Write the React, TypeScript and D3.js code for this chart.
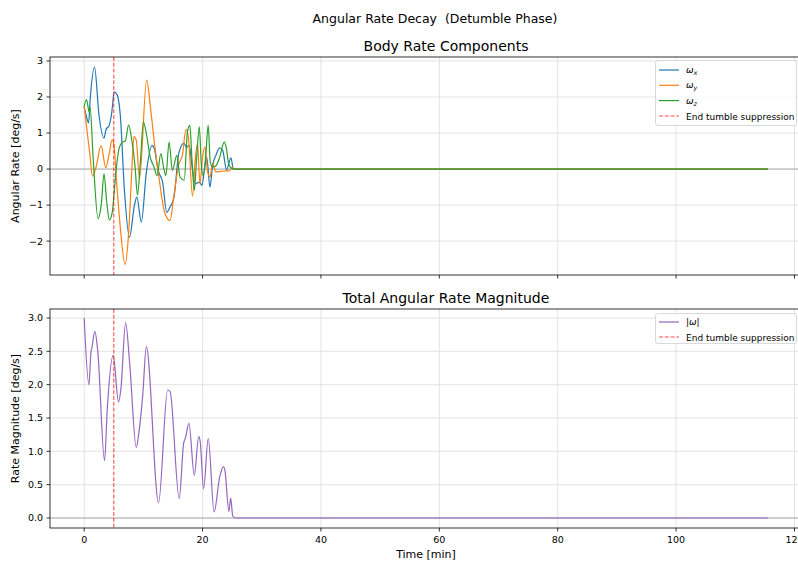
import * as d3 from "d3";

// time samples [min] and body rates [deg/s]
const tX = [0, 0.4, 0.75, 1.0, 1.75, 2.5, 3.35, 3.7, 4.2, 4.6, 5.1, 5.6, 6.1, 6.8, 7.65, 8.5, 8.9, 9.65, 10.5, 11.45, 11.85, 12.5, 13.25, 13.95, 14.5, 15.15, 16.0, 16.85, 17.3, 17.75, 18.2, 18.8, 19.45, 19.9, 20.3, 20.7, 21.25, 21.7, 22.25, 22.9, 23.4, 24.05, 24.8, 25.2, 25.6, 115.5];
const wX = [1.72, 1.45, 1.28, 1.9, 2.83, 1.5, 0.86, 1.1, 1.2, 1.5, 2.14, 2.05, 1.5, -0.59, -1.89, -1.0, -0.78, -1.47, -0.1, 0.66, 0.56, -0.04, -0.36, -1.2, -1.05, -0.8, 0.45, 0.72, 0.6, 0.66, 0.1, -0.41, -0.36, -0.45, -0.04, 0.33, -0.5, 0.1, 0.38, 0.59, 0.52, -0.02, 0.31, 0.0, 0.0, 0.0];

const tY = [0, 0.4, 0.95, 1.4, 2.0, 2.85, 3.65, 4.2, 4.7, 5.0, 5.5, 6.15, 6.9, 7.5, 8.05, 8.4, 8.8, 9.35, 10.55, 11.25, 11.95, 12.7, 13.5, 14.1, 14.5, 15.15, 15.95, 16.6, 17.2, 17.6, 18.3, 18.8, 19.15, 19.55, 20.0, 20.4, 20.85, 21.25, 21.7, 22.25, 23.0, 24.0, 24.5, 25.0, 25.4, 115.5];
const wY = [1.75, 1.17, 0.43, -0.2, 0.05, 0.65, 0.04, 0.4, 0.81, 0.7, -0.41, -1.7, -2.65, -1.8, -0.04, 0.9, 0.8, -0.26, 2.47, 1.63, 0.61, -0.31, -1.15, -1.38, -1.43, -0.75, 0.11, 0.39, 1.1, 0.9, -0.75, 0.33, 0.7, -0.41, 0.33, 0.61, -0.08, -0.22, 0.15, -0.08, -0.07, -0.05, -0.05, 0.05, 0.0, 0.0];

const tZ = [0, 0.4, 0.85, 1.0, 1.5, 2.35, 2.9, 3.35, 3.8, 4.25, 4.7, 5.45, 5.95, 6.5, 6.95, 7.5, 8.05, 8.6, 9.0, 9.5, 10.0, 10.6, 11.15, 11.8, 12.3, 12.95, 13.4, 13.8, 14.35, 14.9, 15.65, 16.2, 16.9, 17.45, 17.85, 18.2, 18.6, 19.0, 19.45, 19.8, 20.1, 20.55, 20.95, 21.3, 21.7, 22.3, 22.9, 23.65, 24.0, 24.4, 24.9, 25.4, 115.5];
const wZ = [1.74, 1.93, 1.58, 1.72, 0.35, -1.38, -0.96, -0.13, -0.9, -1.41, -1.24, 0.06, 0.61, 0.75, 0.78, 1.22, 0.8, 0.06, -0.72, 0.2, 1.31, 0.89, 0.33, 0.06, -0.18, 0.43, 0.06, -0.18, 0.75, -0.04, 0.38, -0.22, -0.31, 1.03, 1.21, 0.3, -0.59, 0.3, 1.17, 0.1, -0.18, 0.4, 1.21, 0.2, 0.06, 0.1, 0.33, 0.75, 0.6, 0.15, 0.02, 0.0, 0.0];

const tMag = [0, 0.8, 1.15, 1.3, 1.8, 2.3, 3.44, 3.9, 4.9, 5.8, 6.2, 7.0, 7.7, 8.8, 9.2, 9.9, 10.5, 12.57, 14.1, 14.5, 16.06, 16.8, 17.1, 17.7, 18.6, 19.35, 19.6, 20.17, 20.96, 21.95, 22.9, 23.55, 23.8, 24.45, 24.75, 25.1, 25.6, 115.5];
const wMag = [3.0, 2.0, 2.49, 2.55, 2.8, 2.5, 0.86, 1.63, 2.44, 1.74, 1.93, 2.93, 2.3, 1.06, 1.25, 1.85, 2.57, 0.23, 1.92, 1.9, 0.29, 1.12, 1.2, 1.42, 0.64, 1.22, 1.15, 0.44, 1.19, 0.09, 0.62, 0.77, 0.7, 0.1, 0.3, 0.03, 0.0, 0.0];

const endSuppression = 5.0;
const xTicks = [0, 20, 40, 60, 80, 100, 120];
const topYTicks = [-2, -1, 0, 1, 2, 3];
const botYTicks = [0.0, 0.5, 1.0, 1.5, 2.0, 2.5, 3.0];

const FONT = "DejaVu Sans, sans-serif";

const x = d3.scaleLinear().domain([-5.775, 121.275]).range([50, 802]);
const yTop = d3.scaleLinear().domain([-2.94, 3.11]).range([275, 57]);
const yBot = d3.scaleLinear().domain([-0.15, 3.135]).range([528, 309]);

function pathFor(ts: number[], vs: number[], y: d3.ScaleLinear<number, number>) {
  const pts = ts.map((t, i) => [t, vs[i]] as [number, number]);
  return d3.line<[number, number]>()
    .x(d => x(d[0]))
    .y(d => y(d[1]))
    .curve(d3.curveMonotoneX)(pts) || "";
}

function Panel({ y, ticks, fmt, top, bottom, label, title, showX }: any) {
  return (
    <g>
      {xTicks.map(t => (
        <line key={"gx" + t} x1={x(t)} x2={x(t)} y1={top} y2={bottom} stroke="#dcdcdc" strokeWidth={0.8} />
      ))}
      {ticks.map((t: number) => (
        <line key={"gy" + t} x1={50} x2={802} y1={y(t)} y2={y(t)} stroke="#dcdcdc" strokeWidth={0.8} />
      ))}
      <line x1={50} x2={802} y1={y(0)} y2={y(0)} stroke="#888" strokeOpacity={0.8} strokeWidth={0.8} />
      {xTicks.map(t => (
        <g key={"tx" + t}>
          <line x1={x(t)} x2={x(t)} y1={bottom} y2={bottom + 3.5} stroke="#000" strokeWidth={0.8} />
          {showX && (
            <text x={x(t)} y={bottom + 15} fontSize={9.5} textAnchor="middle" fontFamily={FONT}>{t}</text>
          )}
        </g>
      ))}
      {ticks.map((t: number) => (
        <g key={"ty" + t}>
          <line x1={46.5} x2={50} y1={y(t)} y2={y(t)} stroke="#000" strokeWidth={0.8} />
          <text x={43} y={y(t) + 3.4} fontSize={9.5} textAnchor="end" fontFamily={FONT}>{fmt(t)}</text>
        </g>
      ))}
      <text transform={`translate(19,${(top + bottom) / 2}) rotate(-90)`} fontSize={11} textAnchor="middle" fontFamily={FONT}>{label}</text>
      <text x={446} y={top - 6} fontSize={14} textAnchor="middle" fontFamily={FONT}>{title}</text>
    </g>
  );
}

function Sub({ s }: { s: string }) {
  return (
    <>
      <tspan fontStyle="italic">ω</tspan>
      <tspan fontStyle="italic" fontSize={6.5} dy={2}>{s}</tspan>
    </>
  );
}

export default function App() {
  const red = { stroke: "red", strokeOpacity: 0.7, strokeWidth: 1.1, strokeDasharray: "4,1.8" };
  const legendTop = [
    { key: "x", color: "#1f77b4" },
    { key: "y", color: "#ff7f0e" },
    { key: "z", color: "#2ca02c" },
  ];
  return (
    <svg width={798} height={563} style={{ position: "absolute", left: 0, top: 0, background: "#fff" }} fontFamily={FONT}>
      <rect width={798} height={563} fill="#fff" />
      <text x={435} y={23} fontSize={12.5} textAnchor="middle" style={{ whiteSpace: "pre" }}>Angular Rate Decay  (Detumble Phase)</text>

      <Panel y={yTop} ticks={topYTicks} fmt={(t: number) => (t < 0 ? "\u2212" + Math.abs(t) : String(t))}
        top={57} bottom={275} label="Angular Rate [deg/s]" title="Body Rate Components" showX={false} />
      <Panel y={yBot} ticks={botYTicks} fmt={(t: number) => t.toFixed(1)}
        top={309} bottom={528} label="Rate Magnitude [deg/s]" title="Total Angular Rate Magnitude" showX={true} />

      <defs>
        <clipPath id="cTop"><rect x={50} y={57} width={752} height={218} /></clipPath>
        <clipPath id="cBot"><rect x={50} y={309} width={752} height={219} /></clipPath>
      </defs>
      <g clipPath="url(#cTop)" fill="none" strokeWidth={1.2}>
        <path d={pathFor(tX, wX, yTop)} stroke="#1f77b4" />
        <path d={pathFor(tY, wY, yTop)} stroke="#ff7f0e" />
        <path d={pathFor(tZ, wZ, yTop)} stroke="#2ca02c" />
        <line x1={x(endSuppression)} x2={x(endSuppression)} y1={57} y2={275} {...red} />
      </g>
      <g clipPath="url(#cBot)" fill="none" strokeWidth={1.2}>
        <path d={pathFor(tMag, wMag, yBot)} stroke="#9467bd" />
        <line x1={x(endSuppression)} x2={x(endSuppression)} y1={309} y2={528} {...red} />
      </g>

      {/* spines */}
      <rect x={50} y={57} width={752} height={218} fill="none" stroke="#000" strokeWidth={0.8} />
      <rect x={50} y={309} width={752} height={219} fill="none" stroke="#000" strokeWidth={0.8} />

      <text x={426} y={558} fontSize={11} textAnchor="middle">Time [min]</text>

      {/* legends */}
      <g fontSize={9}>
        <rect x={655.5} y={60.5} width={141} height={65} rx={2.5} fill="#fff" fillOpacity={0.85} stroke="#d0d0d0" strokeWidth={0.8} />
        {legendTop.map((d, i) => (
          <g key={d.key}>
            <line x1={659} x2={679} y1={70 + i * 15.3} y2={70 + i * 15.3} stroke={d.color} strokeWidth={1.2} />
            <text x={686} y={73 + i * 15.3}><Sub s={d.key} /></text>
          </g>
        ))}
        <line x1={659} x2={679} y1={116} y2={116} {...red} />
        <text x={686} y={119.5}>End tumble suppression</text>

        <rect x={655.5} y={313.5} width={141} height={30} rx={2.5} fill="#fff" fillOpacity={0.85} stroke="#d0d0d0" strokeWidth={0.8} />
        <line x1={659} x2={679} y1={322} y2={322} stroke="#9467bd" strokeWidth={1.2} />
        <text x={686} y={325}>|<tspan fontStyle="italic">ω</tspan>|</text>
        <line x1={659} x2={679} y1={337} y2={337} {...red} />
        <text x={686} y={340.5}>End tumble suppression</text>
      </g>
    </svg>
  );
}
